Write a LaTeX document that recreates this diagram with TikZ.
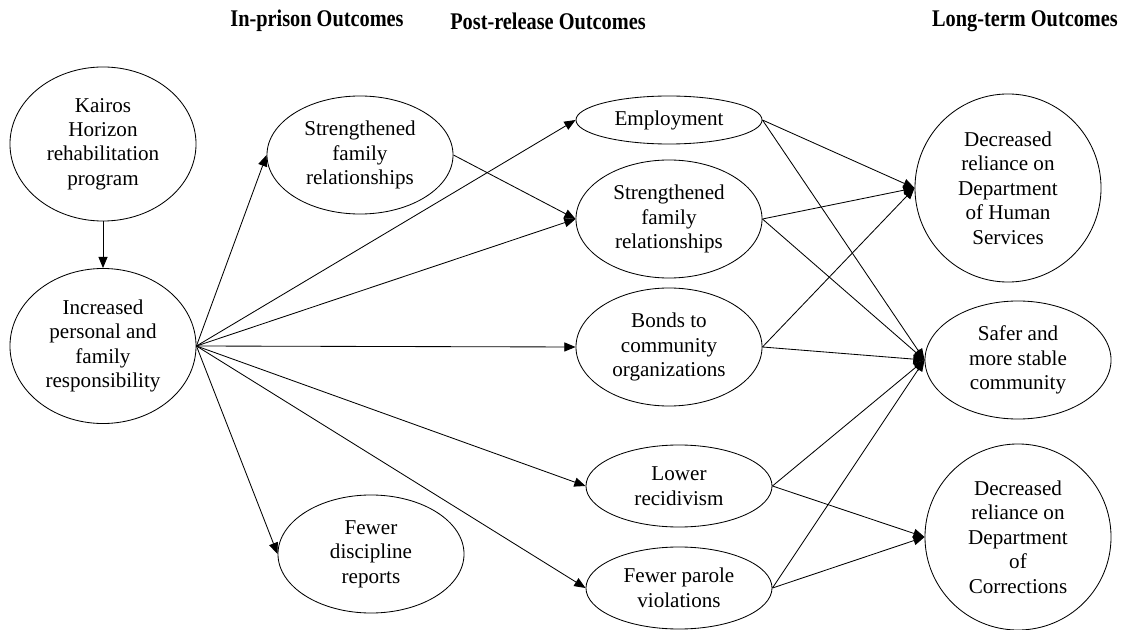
\documentclass[tikz,border=0pt]{standalone}
\usepackage{fontspec}
\setmainfont{Liberation Serif}
\usetikzlibrary{shapes.geometric,arrows.meta}
\begin{document}
\begin{tikzpicture}[x=0.025cm,y=-0.025cm,
    font=\fontsize{15}{17.4}\selectfont,
    outcome/.style={ellipse,draw,line width=0.6pt,inner sep=0pt,align=center,minimum width=4.65cm},
    link/.style={-{Triangle[length=8pt,width=6.5pt]},line width=0.6pt},
    heading/.style={font=\fontsize{17}{20}\selectfont\bfseries\addfontfeature{FakeStretch=0.85}}]
    \useasboundingbox (0,0) rectangle (1139,630);
    % column headings
    \node[heading] (hin) at (317,21) {In-prison Outcomes};
    \node[heading] (hpost) at (548,21) {Post-release Outcomes};
    \node[heading] (hlong) at (1025,21) {Long-term Outcomes};
    % program and in-prison outcomes
    \node[outcome,minimum height=3.85cm] (kairos) at (103,144) {Kairos\\Horizon\\rehabilitation\\program};
    \node[outcome,minimum height=3.875cm] (resp) at (103,346) {Increased\\personal and\\family\\responsibility};
    \node[outcome,minimum height=2.95cm] (infam) at (360,155) {Strengthened\\family\\relationships};
    \node[outcome,minimum height=2.95cm] (disc) at (371,554) {Fewer\\discipline\\reports};
    % post-release outcomes
    \node[outcome,minimum height=1.2cm] (emp) at (669,120) {Employment};
    \node[outcome,minimum height=2.95cm] (postfam) at (669,219) {Strengthened\\family\\relationships};
    \node[outcome,minimum height=2.95cm] (bonds) at (669,347) {Bonds to\\community\\organizations};
    \node[outcome,minimum height=2.05cm] (recid) at (679,486) {Lower\\recidivism};
    \node[outcome,minimum height=2.05cm] (parole) at (679,588) {Fewer parole\\violations};
    % long-term outcomes
    \node[outcome,minimum height=4.7cm] (dhs) at (1008,188) {Decreased\\reliance on\\Department\\of Human\\Services};
    \node[outcome,minimum height=2.95cm] (safer) at (1018,360) {Safer and\\more stable\\community};
    \node[outcome,minimum height=4.65cm] (corr) at (1018,537) {Decreased\\reliance on\\Department\\of\\Corrections};
    % links
    \draw[link] (kairos.south) -- (resp.north);
    \foreach \t in {infam,disc,emp,postfam,bonds,recid,parole}
      \draw[link] (resp.east) -- (\t.west);
    \draw[link] (infam.east) -- (postfam.west);
    \foreach \s in {emp,postfam,bonds}
    {
      \draw[link] (\s.east) -- (dhs.west);
      \draw[link] (\s.east) -- (safer.west);
    }
    \foreach \s in {recid,parole}
    {
      \draw[link] (\s.east) -- (safer.west);
      \draw[link] (\s.east) -- (corr.west);
    }
\end{tikzpicture}
\end{document}
